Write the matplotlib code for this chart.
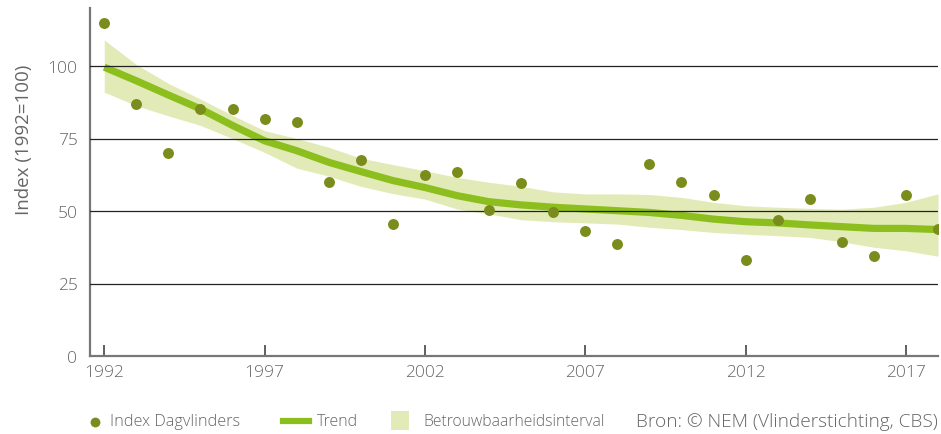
import matplotlib
matplotlib.use("Agg")
import matplotlib.pyplot as plt
from matplotlib.patches import Rectangle
from matplotlib.lines import Line2D

years = list(range(1992, 2019))
index_values = [114.7, 86.9, 69.9, 85.2, 85.2, 81.7, 80.8, 60.0, 67.6, 45.6,
                62.3, 63.3, 50.4, 59.7, 49.8, 43.1, 38.6, 66.2, 60.1, 55.5,
                33.2, 46.8, 54.1, 39.2, 34.4, 55.6, 43.8]
trend = [99.6, 94.9, 90.0, 85.2, 79.5, 74.2, 70.8, 66.8, 63.6, 60.5,
         58.1, 55.3, 53.2, 52.1, 51.3, 50.7, 50.1, 49.5, 48.5, 47.2,
         46.3, 45.9, 45.2, 44.6, 44.0, 44.0, 43.6]
upper = [109.0, 100.5, 94.0, 88.6, 83.0, 77.7, 75.0, 72.0, 68.2, 66.0,
         63.9, 61.6, 59.9, 58.5, 56.6, 55.9, 55.9, 55.7, 54.7, 53.0,
         51.8, 51.3, 50.9, 50.6, 51.3, 53.0, 55.9]
lower = [91.0, 86.3, 82.8, 79.5, 75.0, 70.2, 64.8, 62.0, 58.5, 56.0,
         54.1, 50.7, 49.0, 47.0, 46.3, 45.9, 45.5, 44.4, 43.6, 42.6,
         42.0, 41.5, 40.9, 39.4, 37.5, 36.3, 34.4]
xtick_years = [1992, 1997, 2002, 2007, 2012, 2017]
ytick_vals = [0, 25, 50, 75, 100]

FONT = "Open Sans"
plt.rcParams['font.family'] = [FONT, 'DejaVu Sans']
plt.rcParams['font.weight'] = 'light'

C_POINT = "#7a8c1c"
C_TREND = "#8cbf1e"
C_BAND = "#e2ebb7"
C_TEXT = "#666666"
C_AXIS = "#777777"

W, H = 941, 435
fig = plt.figure(figsize=(W / 100, H / 100), dpi=100)
ax = fig.add_axes([90 / W, 1 - 357 / H, (938 - 90) / W, (357 - 9) / H])

ax.fill_between(years, lower, upper, color=C_BAND, lw=0, zorder=1)
ax.plot(years, trend, color=C_TREND, lw=5.2, solid_capstyle='butt', zorder=2)
for v in ytick_vals[1:]:
    ax.axhline(v, color="#222222", lw=0.9, zorder=3)
ax.scatter(years, index_values, s=62, color=C_POINT, zorder=4, lw=0)

ax.set_xlim(1991.555, 2018.0)
ax.set_ylim(0, 120)
ax.set_xticks(xtick_years)
ax.set_xticklabels([str(y) for y in xtick_years])
ax.set_yticks(ytick_vals)
ax.set_yticklabels([str(v) for v in ytick_vals])
ax.tick_params(axis='x', direction='in', length=8, width=1.2, color="#444444",
               labelsize=12.5, labelcolor=C_TEXT, pad=6)
ax.tick_params(axis='y', length=0, labelsize=12.5, labelcolor=C_TEXT, pad=9)
for s in ['top', 'right']:
    ax.spines[s].set_visible(False)
for s in ['left', 'bottom']:
    ax.spines[s].set_color(C_AXIS)
    ax.spines[s].set_linewidth(1.6)
ax.set_ylabel("Index (1992=100)", fontsize=13.5, color=C_TEXT)
ax.yaxis.set_label_coords(-57 / (938 - 90), (357 - 140) / (357 - 9))

# legend row in pixel coordinates
lg = fig.add_axes([0, 0, 1, 1])
lg.set_xlim(0, W)
lg.set_ylim(H, 0)
lg.axis('off')
ly = 422
lg.scatter([95], [ly + 1], s=50, color=C_POINT, lw=0)
lg.text(110, ly, "Index Dagvlinders", fontsize=11.7, color=C_TEXT, va='center', ha='left')
lg.add_line(Line2D([283, 309], [ly, ly], color=C_TREND, lw=4.5))
lg.text(317, ly, "Trend", fontsize=11.5, color=C_TEXT, va='center', ha='left')
lg.add_patch(Rectangle((391, 412), 18, 19, color=C_BAND, lw=0))
lg.text(423, ly, "Betrouwbaarheidsinterval", fontsize=11.3, color=C_TEXT, va='center', ha='left')
lg.text(938, ly, "Bron: © NEM (Vlinderstichting, CBS)", fontsize=13.7, color=C_TEXT,
        va='center', ha='right')

fig.savefig("out.png", dpi=100)
